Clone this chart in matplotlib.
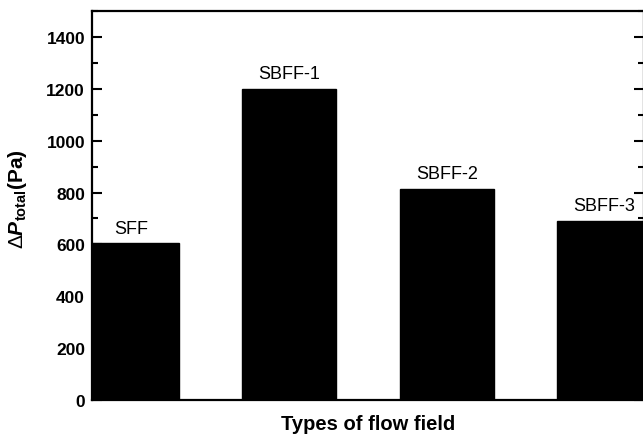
import matplotlib
matplotlib.use('Agg')
import matplotlib.pyplot as plt
from matplotlib.ticker import MultipleLocator

plt.rcParams['font.family'] = ['Liberation Sans', 'DejaVu Sans']
plt.rcParams['mathtext.fontset'] = 'custom'
plt.rcParams['mathtext.rm'] = 'Liberation Sans'
plt.rcParams['mathtext.it'] = 'Liberation Sans:italic'
plt.rcParams['mathtext.bf'] = 'Liberation Sans:bold'
plt.rcParams['mathtext.bfit'] = 'Liberation Sans:bold:italic'

# data
flow_fields = ['SFF', 'SBFF-1', 'SBFF-2', 'SBFF-3']
dp_total = [605, 1200, 815, 692]

fig = plt.figure(figsize=(6.43, 4.35), dpi=100)
ax = fig.add_axes([92 / 643, 1 - 401 / 435, 552 / 643, 389 / 435])

x = range(len(flow_fields))
ax.bar(x, dp_total, width=0.6, color='black', edgecolor='black')

for i, v in enumerate(dp_total):
    ax.text(i, v + 25, flow_fields[i], ha='center', va='bottom', fontsize=13)

ax.set_xlim(-0.25, 3.25)
ax.set_ylim(0, 1500)
ax.set_xticks([])
ax.yaxis.set_major_locator(MultipleLocator(200))
ax.yaxis.set_minor_locator(MultipleLocator(100))
ax.tick_params(axis='y', which='both', direction='in', right=True, width=1.5)
ax.tick_params(axis='y', which='major', length=7, labelsize=12.5, pad=5)
ax.tick_params(axis='y', which='minor', length=4)
for lbl in ax.get_yticklabels():
    lbl.set_fontweight('bold')
for s in ax.spines.values():
    s.set_linewidth(1.6)

ax.set_xlabel('Types of flow field', fontsize=14.5, fontweight='bold', labelpad=10)
ax.set_ylabel(r'$\Delta\mathbfit{P}_{\mathbf{total}}$(Pa)', fontsize=15, fontweight='bold')
ax.yaxis.set_label_coords(-0.115, 0.52)

fig.savefig('out.png', dpi=100)
